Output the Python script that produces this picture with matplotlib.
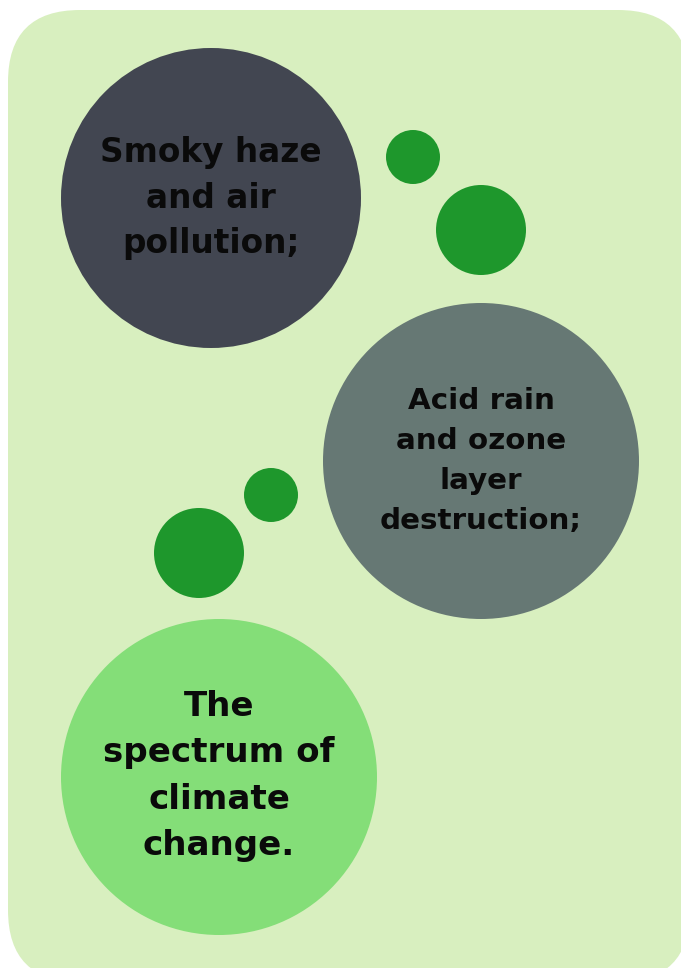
import matplotlib
matplotlib.use('Agg')
from matplotlib import pyplot as plt
from matplotlib.patches import Circle, FancyBboxPatch

# chart content
labels = ['Smoky haze\nand air\npollution;',
          'Acid rain\nand ozone\nlayer\ndestruction;',
          'The\nspectrum of\nclimate\nchange.']
big_colors = ['#424651', '#667874', '#84de78']

# layout (pixels, y downwards)
big_centers = [(211, 198), (481, 461), (219, 777)]
big_radii = [150, 158, 158]
text_sizes = [23.6, 21.2, 24.6]
line_gaps = [1.48, 1.54, 1.51]
text_y = [198, 461, 776]
dot_centers = [(413, 157), (481, 230), (271, 495), (199, 553)]
dot_radii = [27, 45, 27, 45]
dot_color = '#1e972c'

W, H = 681, 968
fig = plt.figure(figsize=(W / 100, H / 100), dpi=100)
ax = fig.add_axes([0, 0, 1, 1])
ax.set_xlim(0, W)
ax.set_ylim(H, 0)
ax.axis('off')

bg = FancyBboxPatch((8, 10), 682, 972,
                    boxstyle='round,pad=0,rounding_size=72',
                    fc='#d8efbf', ec='none')
ax.add_patch(bg)

for (cx, cy), r in zip(dot_centers, dot_radii):
	ax.add_patch(Circle((cx, cy), r, fc=dot_color, ec='none'))

for (cx, cy), r, c, lab, fs, lg, ty in zip(big_centers, big_radii, big_colors,
                                           labels, text_sizes, line_gaps, text_y):
	ax.add_patch(Circle((cx, cy), r, fc=c, ec='none'))
	ax.text(cx, ty, lab, ha='center', va='center', fontsize=fs,
	        fontweight='bold', family='DejaVu Sans', color='#0a0a0a',
	        linespacing=lg, multialignment='center')

fig.savefig('out.png', dpi=100)
